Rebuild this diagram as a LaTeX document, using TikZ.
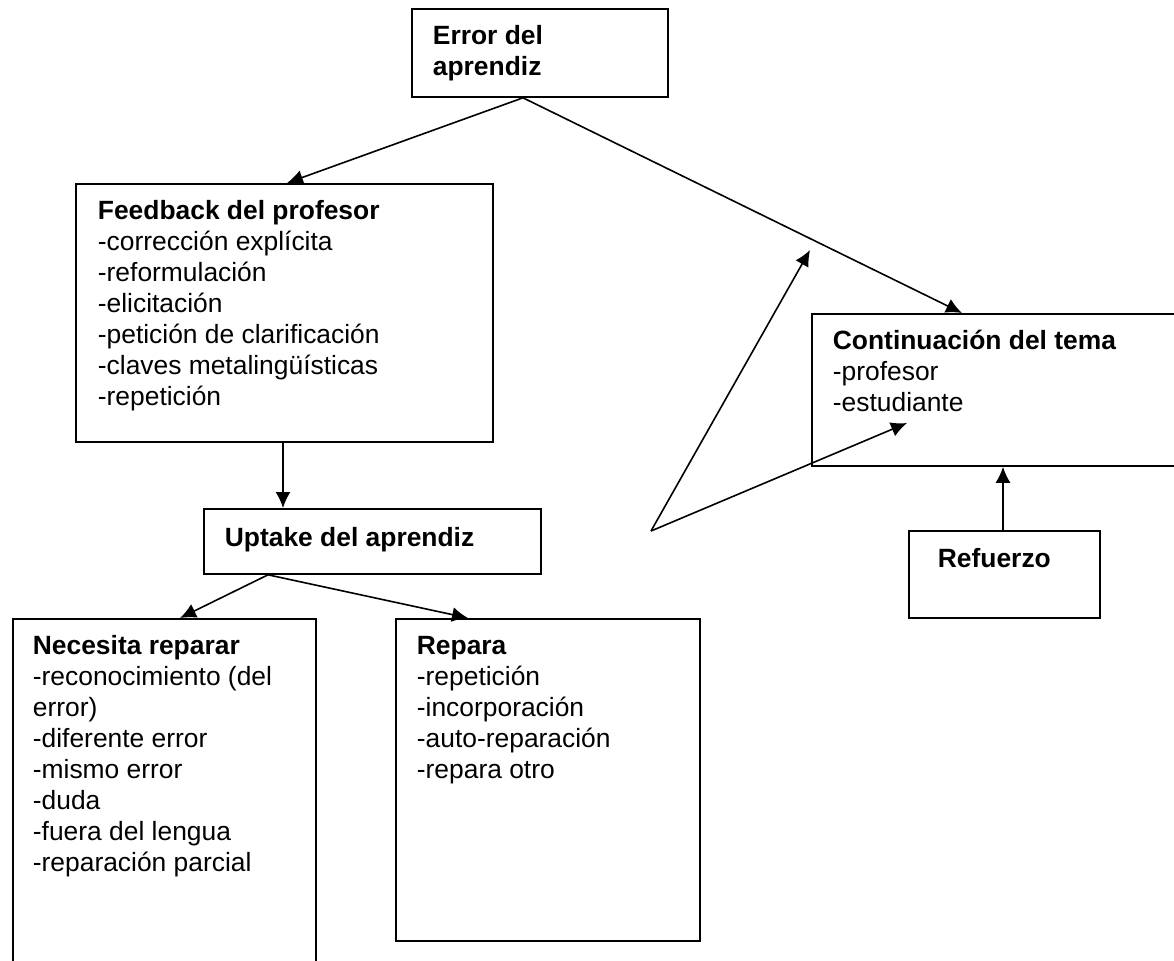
\documentclass[tikz,border=0pt]{standalone}
\usepackage{fontspec}
\setmainfont{Liberation Sans}
\usetikzlibrary{
  arrows.meta,
  calc
}

% box contents: width, height, left indent, text
\newcommand{\cajatexto}[4]{%
  \parbox[t][#2][t]{#1}{\raggedright\leftskip=#3\relax\rule{0pt}{18pt}#4}}

\begin{document}
\begin{tikzpicture}[
  x=0.5pt, y=-0.5pt,
  >=Latex,
  every node/.style={font=\fontsize{13.2pt}{15.5pt}\selectfont},
  caja/.style={draw, line width=0.9pt, inner sep=0pt, anchor=north west},
  flecha/.style={-{Latex[length=8pt,width=7.5pt]}, line width=0.8pt},
]
\useasboundingbox (0,0) rectangle (1174,960);
\fill[white] (0,0) rectangle (1174,960);
\clip (0,0) rectangle (1174,960);

\node[caja] (err) at (411,8) {\cajatexto{128pt}{44pt}{10.5pt}{\bfseries Error del\\aprendiz}};
\node[caja] (fb) at (75,183) {\cajatexto{208.5pt}{129pt}{11pt}{%
  \textbf{Feedback del profesor}\\
  -corrección explícita\\
  -reformulación\\
  -elicitación\\
  -petición de clarificación\\
  -claves metalingüísticas\\
  -repetición}};
\node[caja] (up) at (203,508) {\cajatexto{168.5pt}{32.5pt}{10.5pt}{\rule{0pt}{19pt}\bfseries Uptake del aprendiz}};
\node[caja] (nec) at (12,618) {\cajatexto{151.5pt}{180pt}{10pt}{%
  \textbf{Necesita reparar}\\
  -reconocimiento (del\\
  error)\\
  -diferente error\\
  -mismo error\\
  -duda\\
  -fuera del lengua\\
  -reparación parcial}};
\node[caja] (rep) at (395,618) {\cajatexto{152pt}{161pt}{10.5pt}{%
  \textbf{Repara}\\
  -repetición\\
  -incorporación\\
  -auto-reparación\\
  -repara otro}};
\node[caja] (cont) at (811,313) {\cajatexto{200pt}{76pt}{10.5pt}{%
  \textbf{Continuación del tema}\\
  -profesor\\
  -estudiante}};
\node[caja] (ref) at (908,530) {\cajatexto{95.5pt}{43.5pt}{14.5pt}{\rule{0pt}{18.5pt}\bfseries Refuerzo}};

% free arrows
\coordinate (vertice) at (651,531);
\coordinate (punta1) at (810,250);
\coordinate (punta2) at (907,423);

\draw[flecha] ($(err.south west)+(112,0)$) -- ($(fb.north west)+(212,0)$);
\draw[flecha] ($(err.south west)+(112,0)$) -- ($(cont.north west)+(151,0)$);
\draw[flecha] ($(fb.south west)+(208,0)$) -- ($(up.north west)+(80,0)$);
\draw[flecha] ($(up.south west)+(65,0)$) -- ($(nec.north west)+(168,0)$);
\draw[flecha] ($(up.south west)+(65,0)$) -- ($(rep.north west)+(73,0)$);
\draw[flecha] ($(ref.north west)+(95,0)$) -- ($(cont.south west)+(192,0)$);
\draw[flecha] (vertice) -- (punta1);
\draw[flecha] (vertice) -- (punta2);
\end{tikzpicture}
\end{document}
